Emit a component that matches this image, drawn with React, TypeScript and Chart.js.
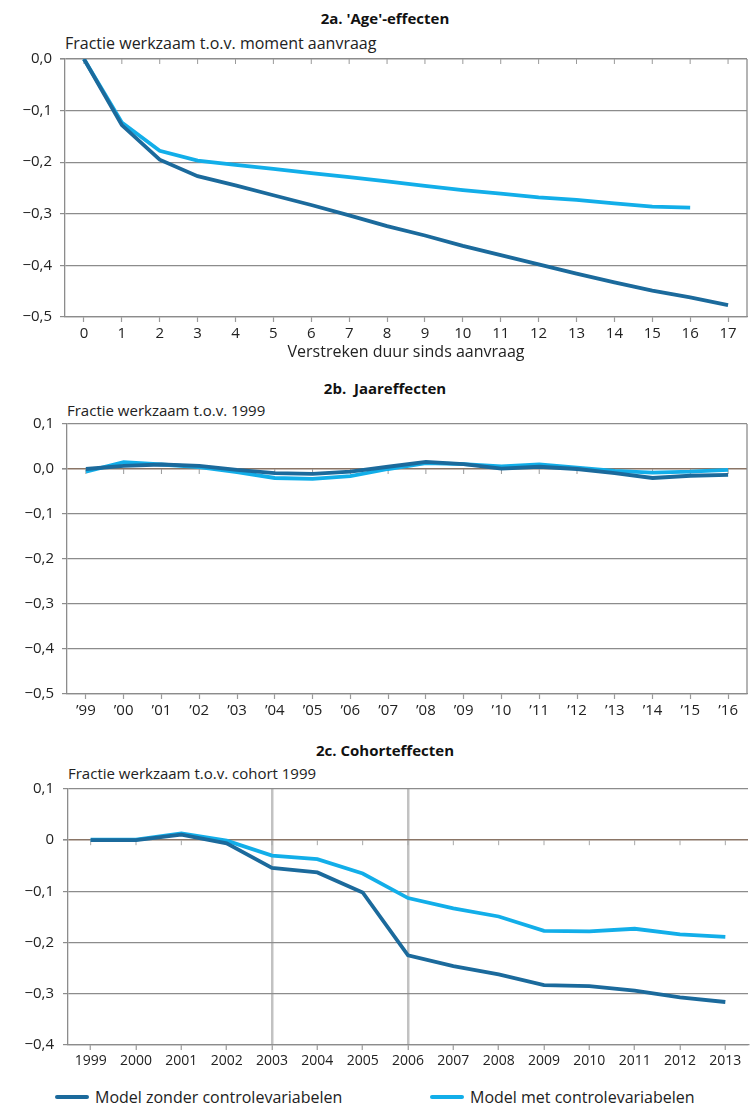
import React, { useEffect, useRef } from 'react';
import { Chart, registerables } from 'chart.js';

Chart.register(...registerables);

const FONT = "'Open Sans', sans-serif";
const DARK = '#1b6a9c';
const LIGHT = '#12aee9';
const GRID = '#8c8c8c';
const ZERO = '#8a7566';
const TEXT = '#222222';

// 2a. 'Age'-effecten
const ageLabels = ['0', '1', '2', '3', '4', '5', '6', '7', '8', '9', '10', '11', '12', '13', '14', '15', '16', '17'];
const ageZonder = [0, -0.128, -0.195, -0.227, -0.245, -0.264, -0.283, -0.303, -0.324, -0.342, -0.362, -0.380, -0.398, -0.416, -0.433, -0.449, -0.462, -0.477];
const ageMet = [0, -0.123, -0.178, -0.197, -0.205, -0.213, -0.221, -0.229, -0.237, -0.246, -0.254, -0.261, -0.268, -0.273, -0.280, -0.286, -0.288, null];

// 2b. Jaareffecten
const yearLabels = ['’99', '’00', '’01', '’02', '’03', '’04', '’05', '’06', '’07', '’08', '’09', '’10', '’11', '’12', '’13', '’14', '’15', '’16'];
const yearZonder = [0, 0.007, 0.010, 0.007, -0.002, -0.009, -0.011, -0.006, 0.005, 0.016, 0.011, 0.001, 0.005, 0.0, -0.009, -0.020, -0.015, -0.013];
const yearMet = [-0.006, 0.015, 0.010, 0.004, -0.007, -0.020, -0.022, -0.016, 0.0, 0.013, 0.011, 0.006, 0.010, 0.003, -0.004, -0.008, -0.006, -0.002];

// 2c. Cohorteffecten
const cohortLabels = ['1999', '2000', '2001', '2002', '2003', '2004', '2005', '2006', '2007', '2008', '2009', '2010', '2011', '2012', '2013'];
const cohortZonder = [0.0, 0.0, 0.011, -0.006, -0.054, -0.063, -0.102, -0.225, -0.246, -0.262, -0.283, -0.285, -0.294, -0.307, -0.316];
const cohortMet = [0.001, 0.001, 0.013, -0.001, -0.030, -0.037, -0.065, -0.113, -0.133, -0.149, -0.177, -0.178, -0.173, -0.184, -0.189];
const cohortMarked = ['2003', '2006'];

const seriesNames = ['Model zonder controlevariabelen', 'Model met controlevariabelen'];

const fmt = (v: number, zeroLabel: string) => {
  if (Math.abs(v) < 1e-9) return zeroLabel;
  return (v < 0 ? '−' : '') + Math.abs(v).toFixed(1).replace('.', ',');
};

const decor = {
  id: 'decor',
  beforeDatasetsDraw(chart: any, _args: any, opts: any) {
    const { ctx, chartArea, scales } = chart;
    const x = scales.x;
    const y = scales.y;
    ctx.save();
    if (opts.rightBorder) {
      ctx.strokeStyle = GRID;
      ctx.lineWidth = 1.3;
      ctx.beginPath();
      ctx.moveTo(chartArea.right, chartArea.top);
      ctx.lineTo(chartArea.right, chartArea.bottom);
      ctx.stroke();
    }
    if (opts.zeroTicks) {
      const y0 = y.getPixelForValue(0);
      ctx.strokeStyle = opts.zeroTickColor || GRID;
      ctx.lineWidth = 1;
      for (let i = 0; i < x.ticks.length; i++) {
        const px = x.getPixelForTick(i);
        ctx.beginPath();
        ctx.moveTo(px, y0);
        ctx.lineTo(px, y0 + 5);
        ctx.stroke();
      }
    }
    ctx.restore();
  },
};

type Cfg = {
  labels: string[];
  zonder: (number | null)[];
  met: (number | null)[];
  min: number;
  max: number;
  zeroLabel: string;
  zeroColor: string;
  yWidth: number;
  xHeight: number;
  padLeft: number;
  padRight: number;
  rightBorder: boolean;
  xFontSize: number;
  yFontSize: number;
  yPad: number;
  xTitle?: string;
  marked?: string[];
  zeroTickColor: string;
};

function makeConfig(c: Cfg): any {
  return {
    type: 'line',
    data: {
      labels: c.labels,
      datasets: [
        {
          label: seriesNames[0],
          data: c.zonder,
          borderColor: DARK,
          backgroundColor: DARK,
          borderWidth: 3.8,
          pointRadius: 0,
          tension: 0,
          spanGaps: false,
        },
        {
          label: seriesNames[1],
          data: c.met,
          borderColor: LIGHT,
          backgroundColor: LIGHT,
          borderWidth: 3.8,
          pointRadius: 0,
          tension: 0,
          spanGaps: false,
        },
      ],
    },
    options: {
      animation: false,
      responsive: true,
      maintainAspectRatio: false,
      layout: { padding: { left: c.padLeft, right: c.padRight, top: 12, bottom: 0 } },
      plugins: {
        legend: { display: false },
        title: { display: false },
        tooltip: { enabled: false },
        decor: { rightBorder: c.rightBorder, zeroTicks: true, zeroTickColor: c.zeroTickColor },
      },
      scales: {
        x: {
          type: 'category',
          offset: true,
          border: { display: true, color: GRID, width: 1.3 },
          grid: {
            display: true,
            drawOnChartArea: !!c.marked,
            drawTicks: true,
            tickLength: 5,
            color: (ctx: any) => {
              if (!c.marked) return GRID;
              const lbl = c.labels[ctx.index];
              return c.marked.includes(lbl) ? '#c2c2c2' : 'rgba(0,0,0,0)';
            },
            lineWidth: c.marked ? 2.5 : 1,
            tickColor: '#9a9a9a',
            tickWidth: 1.2,
          },
          ticks: {
            color: TEXT,
            font: { family: FONT, size: c.xFontSize },
            padding: 3,
            maxRotation: 0,
            autoSkip: false,
          },
          title: c.xTitle
            ? {
                display: true,
                text: c.xTitle,
                color: TEXT,
                font: { family: FONT, size: 16 },
                padding: { top: 0, bottom: 2 },
              }
            : { display: false },
          afterFit: (scale: any) => {
            scale.height = c.xHeight;
          },
        },
        y: {
          min: c.min,
          max: c.max,
          border: { display: true, color: GRID, width: 1.3 },
          grid: {
            color: (ctx: any) => (Math.abs(ctx.tick.value) < 1e-9 ? c.zeroColor : GRID),
            lineWidth: (ctx: any) => (Math.abs(ctx.tick.value) < 1e-9 ? 1.6 : 1.2),
            tickColor: GRID,
            tickLength: 5,
            drawTicks: true,
          },
          ticks: {
            stepSize: 0.1,
            color: TEXT,
            font: { family: FONT, size: c.yFontSize },
            padding: c.yPad,
            callback: (v: any) => fmt(Number(v), c.zeroLabel),
          },
          afterFit: (scale: any) => {
            scale.width = c.yWidth;
          },
        },
      },
    },
    plugins: [decor],
  };
}

function ChartBox(props: { cfg: Cfg; left: number; top: number; width: number; height: number }) {
  const ref = useRef<HTMLCanvasElement | null>(null);
  useEffect(() => {
    if (!ref.current) return;
    const chart = new Chart(ref.current, makeConfig(props.cfg));
    return () => chart.destroy();
  }, []);
  return (
    <div style={{ position: 'absolute', left: props.left, top: props.top, width: props.width, height: props.height }}>
      <canvas ref={ref} />
    </div>
  );
}

const titleStyle = (top: number): React.CSSProperties => ({
  position: 'absolute',
  left: 0,
  width: 770,
  top: top - 11,
  height: 22,
  lineHeight: '22px',
  textAlign: 'center',
  fontFamily: FONT,
  fontWeight: 700,
  fontSize: 15,
  color: '#111',
  whiteSpace: 'nowrap',
});

const subStyle = (left: number, top: number, size: number): React.CSSProperties => ({
  position: 'absolute',
  left,
  top: top - 11,
  height: 22,
  lineHeight: '22px',
  fontFamily: FONT,
  fontSize: size,
  color: TEXT,
  whiteSpace: 'nowrap',
});

export default function App() {
  const cfgA: Cfg = {
    labels: ageLabels,
    zonder: ageZonder,
    met: ageMet,
    min: -0.5,
    max: 0,
    zeroLabel: '0,0',
    zeroColor: GRID,
    yWidth: 57,
    xHeight: 47,
    padLeft: 8,
    padRight: 3,
    rightBorder: true,
    xFontSize: 15,
    yFontSize: 15,
    yPad: 8,
    xTitle: 'Verstreken duur sinds aanvraag',
    zeroTickColor: '#9a9a9a',
  };
  const cfgB: Cfg = {
    labels: yearLabels,
    zonder: yearZonder,
    met: yearMet,
    min: -0.5,
    max: 0.1,
    zeroLabel: '0,0',
    zeroColor: ZERO,
    yWidth: 59,
    xHeight: 32,
    padLeft: 8,
    padRight: 3,
    rightBorder: true,
    xFontSize: 15,
    yFontSize: 15,
    yPad: 8,
    zeroTickColor: '#9a9a9a',
  };
  const cfgC: Cfg = {
    labels: cohortLabels,
    zonder: cohortZonder,
    met: cohortMet,
    min: -0.4,
    max: 0.1,
    zeroLabel: '0',
    zeroColor: ZERO,
    yWidth: 60,
    xHeight: 32,
    padLeft: 8,
    padRight: 2,
    rightBorder: false,
    xFontSize: 14,
    yFontSize: 15,
    yPad: 9,
    marked: cohortMarked,
    zeroTickColor: '#a8a8a8',
  };

  return (
    <div style={{ position: 'absolute', left: 0, top: 0, width: 750, height: 1108, background: '#fff' }}>
      <div style={titleStyle(18)}>2a. 'Age'-effecten</div>
      <div style={subStyle(65, 43, 16)}>Fractie werkzaam t.o.v. moment aanvraag</div>
      <ChartBox cfg={cfgA} left={0} top={42} width={750} height={322} />

      <div style={titleStyle(388)}>2b.&nbsp; Jaareffecten</div>
      <div style={subStyle(67, 410, 15)}>Fractie werkzaam t.o.v. 1999</div>
      <ChartBox cfg={cfgB} left={0} top={407} width={750} height={319} />

      <div style={titleStyle(750)}>2c. Cohorteffecten</div>
      <div style={subStyle(68, 773, 15)}>Fractie werkzaam t.o.v. cohort 1999</div>
      <ChartBox cfg={cfgC} left={0} top={771} width={750} height={306} />

      <div style={{ position: 'absolute', left: 55, top: 1095, width: 34, height: 4, background: DARK, borderRadius: 2 }} />
      <div style={subStyle(95, 1097, 16)}>{seriesNames[0]}</div>
      <div style={{ position: 'absolute', left: 430, top: 1095, width: 34, height: 4, background: LIGHT, borderRadius: 2 }} />
      <div style={subStyle(470, 1097, 16)}>{seriesNames[1]}</div>
    </div>
  );
}
